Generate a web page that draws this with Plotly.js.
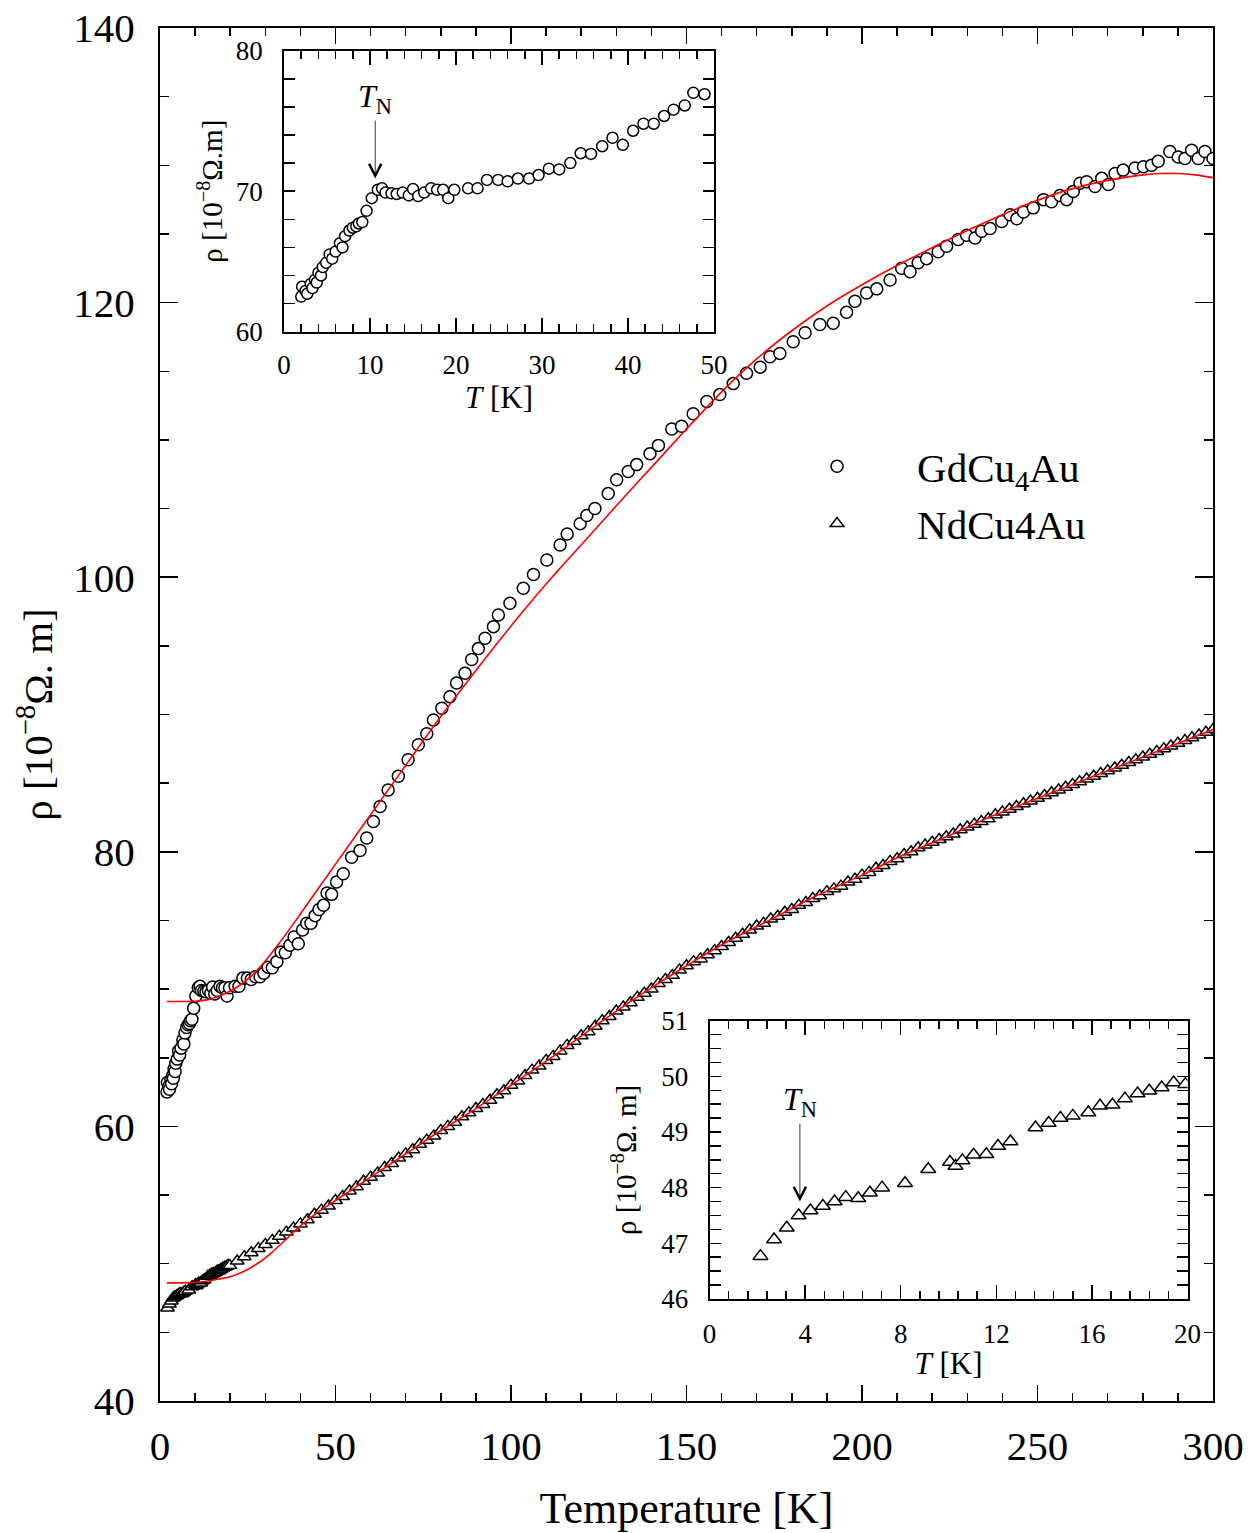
<!DOCTYPE html>
<html>
<head>
<meta charset="utf-8">
<script src="https://cdn.plot.ly/plotly-3.0.1.min.js"></script>
<style>html,body{margin:0;padding:0;background:#fff;}#chart{width:1253px;height:1533px;}</style>
</head>
<body>
<div id="chart"></div>
<script>
// ---------- GdCu4Au, low temperature (inset 1 and main plot) ----------
const gdT_low = [2.0,2.1,2.5,2.7,3.1,3.3,3.6,3.8,4.0,4.3,4.5,4.9,5.3,5.6,6.0,6.5,6.8,7.1,7.6,8.0,8.4,8.7,9.1,9.6,10.2,10.9,11.4,11.8,12.5,13.1,13.8,14.5,15.0,15.6,16.3,17.1,17.8,18.5,19.1,19.8,21.4,22.5,23.6,24.9,26.0,27.2,28.5,29.6,30.8,32.0,33.3,34.5,35.7,37.0,38.2,39.4,40.6,41.8,43.0,44.2,45.3,46.6,47.6,48.9];
const gdRho_low = [62.5,63.2,62.9,62.7,63.4,63.1,63.7,63.5,64.2,64.0,64.6,64.9,65.5,65.2,65.7,66.3,66.0,66.8,67.2,67.4,67.5,67.7,67.8,68.6,69.5,70.1,70.2,69.9,69.85,69.8,69.9,69.7,70.15,69.65,69.9,70.2,70.1,70.1,69.5,70.1,70.2,70.2,70.8,70.8,70.7,70.9,70.9,71.15,71.6,71.55,72.0,72.7,72.65,73.2,73.8,73.3,74.3,74.8,74.8,75.35,75.8,76.1,77.0,76.9];

// ---------- GdCu4Au, 50-300 K (main plot) ----------
const gdT_high = [50.3,52.2,54.6,57.0,58.9,60.8,62.7,65.0,67.9,70.7,73.6,76.0,77.9,80.3,82.6,84.5,86.9,88.8,90.7,92.6,95.0,96.4,99.7,103.5,106.4,110.2,114.0,116.0,119.7,121.6,123.9,127.7,130.1,133.4,135.8,139.6,142.0,145.8,148.6,151.9,155.8,159.5,163.3,167.1,171.0,173.8,176.6,180.4,183.8,188.0,191.8,195.6,198.0,201.3,204.2,208.0,211.3,213.7,216.0,218.4,221.7,224.1,227.4,229.8,232.2,234.1,236.5,239.8,242.2,244.1,246.0,248.8,251.7,254.0,256.4,258.3,260.2,262.1,264.0,266.4,268.3,270.2,272.1,274.4,277.8,280.2,282.5,284.4,287.7,290.1,292.0,293.9,295.8,297.7,300.0];
const gdRho_high = [77.8,78.4,79.6,80.1,81.0,82.2,83.3,84.5,85.5,86.7,87.8,88.6,89.6,90.45,91.3,92.3,93.0,94.0,94.8,95.55,96.4,97.25,98.1,99.2,100.2,101.25,102.35,103.15,103.9,104.5,105.0,106.1,107.1,107.7,108.2,109.0,109.6,110.8,111.0,111.9,112.8,113.3,114.1,114.85,115.3,116.05,116.3,117.15,117.8,118.4,118.5,119.3,120.1,120.7,121.0,121.65,122.5,122.25,122.9,123.2,123.7,124.1,124.6,124.9,124.7,125.2,125.4,125.9,126.4,126.1,126.6,126.9,127.5,127.35,127.8,127.5,128.1,128.7,128.8,128.45,129.05,128.6,129.4,129.65,129.8,129.9,130.0,130.3,131.0,130.6,130.5,131.1,130.5,131.0,130.5];

// ---------- GdCu4Au fit (red) ----------
const gdFitT = [2,10,14,18,22,26,30,34,38,42,46,50,55,60,65,70,75,80,85,90,95,100,105,110,115,120,130,140,150,160,170,180,190,200,210,220,230,240,250,260,270,280,285,290,295,300];
const gdFitRho = [69.1,69.12,69.25,69.6,70.15,70.95,72.05,73.35,74.75,76.2,77.65,79.1,80.9,82.7,84.5,86.3,88.1,89.85,91.55,93.2,94.85,96.45,98.0,99.5,100.95,102.35,105.2,108.0,110.8,113.5,115.9,117.95,119.75,121.3,122.7,124.0,125.25,126.4,127.45,128.3,128.9,129.3,129.4,129.4,129.3,129.1];

// ---------- NdCu4Au, low temperature (inset 2 and main plot) ----------
const ndT_low = [2.13,2.70,3.23,3.73,4.22,4.74,5.23,5.70,6.22,6.71,7.22,8.18,9.15,10.06,10.29,10.58,11.05,11.58,12.07,12.59,13.64,14.19,14.68,15.2,15.85,16.34,16.86,17.38,17.91,18.4,18.92,19.42,19.91];
const ndRho_low = [46.77,47.07,47.28,47.50,47.59,47.67,47.75,47.83,47.81,47.91,48.0,48.08,48.33,48.46,48.39,48.49,48.59,48.60,48.75,48.83,49.08,49.16,49.25,49.29,49.35,49.47,49.49,49.60,49.69,49.74,49.80,49.89,49.86];

// ---------- NdCu4Au, 22-300 K (main plot) ----------
const ndT_high = [22,24,26,28,30,32,34,36,38,40,42,44,46,48,50,52,54,56,58,60,62,64,66,68,70,72,74,76,78,80,82,84,86,88,90,92,94,96,98,100,102,104,106,108,110,112,114,116,118,120,122,124,126,128,130,132,134,136,138,140,142,144,146,148,150,152,154,156,158,160,162,164,166,168,170,172,174,176,178,180,182,184,186,188,190,192,194,196,198,200,202,204,206,208,210,212,214,216,218,220,222,224,226,228,230,232,234,236,238,240,242,244,246,248,250,252,254,256,258,260,262,264,266,268,270,272,274,276,278,280,282,284,286,288,290,292,294,296,298,300];
const ndRho_high = [50.2,50.5,50.8,51.1,51.4,51.7,52.0,52.3,52.6,52.9,53.2,53.6,53.9,54.2,54.6,54.9,55.3,55.6,56.0,56.3,56.6,57.0,57.3,57.7,58.0,58.3,58.7,59.0,59.3,59.7,60.0,60.3,60.7,61.0,61.3,61.6,61.9,62.3,62.6,63.0,63.3,63.7,64.1,64.4,64.8,65.1,65.5,65.9,66.2,66.6,66.9,67.3,67.7,68.0,68.4,68.7,69.0,69.4,69.7,70.0,70.4,70.7,71.0,71.4,71.7,72.0,72.2,72.5,72.8,73.1,73.4,73.7,74.0,74.3,74.6,74.8,75.1,75.3,75.6,75.8,76.1,76.3,76.6,76.8,77.1,77.3,77.5,77.8,78.0,78.3,78.5,78.8,79.0,79.3,79.5,79.8,80.0,80.3,80.5,80.7,80.9,81.1,81.3,81.6,81.8,82.0,82.2,82.4,82.7,82.9,83.1,83.3,83.5,83.7,83.9,84.1,84.3,84.5,84.7,84.9,85.1,85.3,85.5,85.7,85.9,86.1,86.3,86.5,86.7,86.9,87.1,87.3,87.5,87.7,87.9,88.1,88.3,88.5,88.7,88.9];

// ---------- NdCu4Au fit (red) ----------
const ndFitT = [2,8,12,16,20,24,28,32,36,40,45,50,60,70,80,90,100,112,125,137,150,162,175,187,200,212,225,237,250,262,275,287,300];
const ndFitRho = [48.6,48.62,48.68,48.85,49.05,49.45,50.05,50.85,51.8,52.75,53.75,54.6,56.3,58.0,59.7,61.3,63.0,65.1,67.5,69.6,71.7,73.5,75.2,76.8,78.3,79.8,81.2,82.6,83.9,85.1,86.4,87.6,88.9];

// ---------- labels ----------
const legendNames = ['GdCu<sub>4</sub>Au', 'NdCu4Au'];
const mainXTitle = 'Temperature [K]';
const mainYTitle = 'ρ [10<sup>−8</sup>Ω. m]';
const inset1YTitle = 'ρ [10<sup>−8</sup>Ω.m]';
const inset2YTitle = 'ρ [10<sup>−8</sup>Ω. m]';
const insetXTitle = '<i>T</i> [K]';
const tnLabel = '<i>T</i><sub>N</sub>';
const tnGd = {T: 10.6, rho: 70.9};
const tnNd = {T: 3.78, rho: 47.75};

const FONT = 'Liberation Serif, Times New Roman, serif';
const mainT_gd = gdT_low.concat(gdT_high);
const mainR_gd = gdRho_low.concat(gdRho_high);
const mainT_nd = ndT_low.concat(ndT_high);
const mainR_nd = ndRho_low.concat(ndRho_high);

const circ = (s) => ({symbol: 'circle', size: s, color: '#ffffff', line: {color: '#000', width: 1.5}});
const tri = (s) => ({symbol: 'triangle-up', size: s, color: '#ffffff', line: {color: '#000', width: 1.5}});
const red = {color: '#ff0000', width: 1.6, shape: 'spline', smoothing: 0.6};

const traces = [
  {x: mainT_gd, y: mainR_gd, mode: 'markers', type: 'scatter', name: legendNames[0], marker: circ(12), xaxis: 'x', yaxis: 'y', legendgroup: 'a'},
  {x: mainT_nd, y: mainR_nd, mode: 'markers', type: 'scatter', name: legendNames[1], marker: tri(12), xaxis: 'x', yaxis: 'y', legendgroup: 'b'},
  {x: gdFitT, y: gdFitRho, mode: 'lines', type: 'scatter', line: red, showlegend: false, xaxis: 'x', yaxis: 'y'},
  {x: ndFitT, y: ndFitRho, mode: 'lines', type: 'scatter', line: red, showlegend: false, xaxis: 'x', yaxis: 'y'},
  {x: gdT_low, y: gdRho_low, mode: 'markers', type: 'scatter', marker: circ(11), showlegend: false, xaxis: 'x2', yaxis: 'y2'},
  {x: ndT_low, y: ndRho_low, mode: 'markers', type: 'scatter', marker: tri(13), showlegend: false, xaxis: 'x3', yaxis: 'y3'}
];

function ax(o) {
  return Object.assign({
    showline: true, linecolor: '#000', linewidth: 2, mirror: 'allticks',
    ticks: 'inside', tickcolor: '#000', tickwidth: 1.5,
    showgrid: false, zeroline: false, automargin: false,
    tickfont: {family: FONT, size: 27, color: '#000'}
  }, o);
}

const layout = {
  width: 1253, height: 1533,
  margin: {l: 160, r: 40, t: 28, b: 132},
  paper_bgcolor: '#fff', plot_bgcolor: '#fff',
  font: {family: FONT, color: '#000'},
  showlegend: true,
  legend: {x: 0.567, y: 0.705, xanchor: 'left', yanchor: 'top', bgcolor: 'rgba(0,0,0,0)',
           font: {family: FONT, size: 41, color: '#000'}, itemwidth: 150, traceorder: 'grouped', tracegroupgap: 1},
  xaxis: ax({domain: [0, 1], anchor: 'y', range: [0, 300], dtick: 50, tick0: 0, ticklen: 16,
    minor: {dtick: 10, ticklen: 8, ticks: 'inside', tickcolor: '#000', tickwidth: 1.5},
    tickfont: {family: FONT, size: 41, color: '#000'}, ticklabelstandoff: 8,
    title: {text: mainXTitle, font: {family: FONT, size: 44, color: '#000'}, standoff: 30}}),
  yaxis: ax({domain: [0, 1], anchor: 'x', range: [40, 140], dtick: 20, tick0: 40, ticklen: 18,
    minor: {dtick: 5, ticklen: 9, ticks: 'inside', tickcolor: '#000', tickwidth: 1.5},
    tickfont: {family: FONT, size: 41, color: '#000'}, ticklabelstandoff: 15,
    title: {text: mainYTitle, font: {family: FONT, size: 41, color: '#000'}, standoff: 8}}),
  xaxis2: ax({domain: [0.1178, 0.5261], anchor: 'y2', range: [0, 50], dtick: 10, tick0: 0, ticklen: 14,
    minor: {dtick: 2, ticklen: 8, ticks: 'inside', tickcolor: '#000', tickwidth: 1.5}, ticklabelstandoff: 8,
    title: {text: insetXTitle, font: {family: FONT, size: 31, color: '#000'}, standoff: 6}}),
  yaxis2: ax({domain: [0.7788, 0.9835], anchor: 'x2', range: [60, 80], dtick: 10, tick0: 60, ticklen: 11,
    minor: {dtick: 2, ticklen: 11, ticks: 'inside', tickcolor: '#000', tickwidth: 1.5}, ticklabelstandoff: 14,
    title: {text: inset1YTitle, font: {family: FONT, size: 29, color: '#000'}, standoff: 4}}),
  xaxis3: ax({domain: [0.5219, 0.9758], anchor: 'y3', range: [0, 20], dtick: 4, tick0: 0, ticklen: 14,
    minor: {dtick: 0.8, ticklen: 8, ticks: 'inside', tickcolor: '#000', tickwidth: 1.5}, ticklabelstandoff: 10,
    title: {text: insetXTitle, font: {family: FONT, size: 31, color: '#000'}, standoff: 4}}),
  yaxis3: ax({domain: [0.0743, 0.2770], anchor: 'x3', range: [46, 51], dtick: 1, tick0: 46, ticklen: 11,
    minor: {dtick: 0.25, ticklen: 11, ticks: 'inside', tickcolor: '#000', tickwidth: 1.5}, ticklabelstandoff: 14,
    title: {text: inset2YTitle, font: {family: FONT, size: 29, color: '#000'}, standoff: 16}}),
  annotations: [
    {xref: 'x2', yref: 'y2', x: tnGd.T, y: tnGd.rho, ax: 0, ay: -80, text: tnLabel, showarrow: true,
     arrowhead: 5, arrowsize: 3, arrowwidth: 0.8, arrowcolor: '#000', standoff: 0, xshift: 0,
     font: {family: FONT, size: 32, color: '#000'}},
    {xref: 'x3', yref: 'y3', x: tnNd.T, y: tnNd.rho, ax: 0, ay: -100, text: tnLabel, showarrow: true,
     arrowhead: 5, arrowsize: 3, arrowwidth: 0.8, arrowcolor: '#000', standoff: 0,
     font: {family: FONT, size: 32, color: '#000'}}
  ]
};

Plotly.newPlot('chart', traces, layout, {staticPlot: true, displayModeBar: false});
</script>
</body>
</html>
